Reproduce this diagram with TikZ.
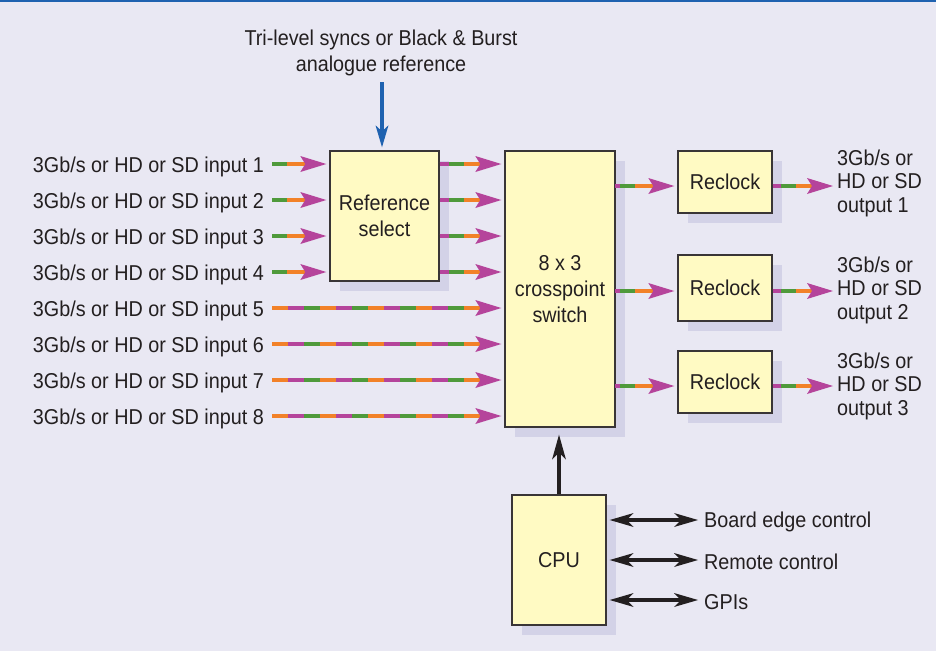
\documentclass[tikz,border=0pt]{standalone}
\usepackage{fontspec}
\setmainfont[FakeStretch=0.92]{Liberation Sans}
\usetikzlibrary{arrows.meta}
\definecolor{bg}{HTML}{E9E8F3}
\definecolor{shad}{HTML}{D3D2E7}
\definecolor{boxfill}{HTML}{FFFAC3}
\definecolor{sgreen}{HTML}{4F9A3B}
\definecolor{sorange}{HTML}{F28128}
\definecolor{smag}{HTML}{B5449B}
\definecolor{topblue}{HTML}{1F62B0}
\definecolor{txt}{HTML}{231F20}
\newcommand\lab{\fontsize{21.5}{26}\selectfont}
\newcommand\labo{\fontsize{21.5}{23.5}\selectfont}
\tikzset{
  blk/.style={draw=txt!90, line width=1.4pt, fill=boxfill, align=center,
    inner sep=0pt, font=\lab, text=txt,
    preaction={fill=shad, transform canvas={shift={(10pt,-10pt)}}}},
  lbl/.style={font=\lab, text=txt, inner sep=0pt},
  sig/.style={line width=4pt, draw=sorange, shorten >=3pt,
    -{Stealth[length=26pt,width=16pt,inset=5pt,color=smag,line width=0pt]}},
  sigov/.style={line width=4pt},
  dbl/.style={line width=3.5pt, draw=txt,
    {Stealth[length=24pt,width=14pt,inset=7pt,line width=0pt]}-{Stealth[length=24pt,width=14pt,inset=7pt,line width=0pt]}},
  bigup/.style={line width=4pt, draw=txt,
    -{Stealth[length=25pt,width=14pt,inset=7pt,line width=0pt]}},
  blueup/.style={line width=3.5pt, draw=topblue,
    -{Stealth[length=22pt,width=13pt,inset=6pt,line width=0pt]}},
}
% signal line: start, end, magenta length
\newcommand\sigline[3]{%
  \draw[sig] (#1) -- (#2);
  \draw[sigov, smag, dash pattern=on #3pt off 2000pt] (#1) -- (#2);
  \draw[sigov, sgreen, dash pattern=on 0pt off #3pt on 15pt off 2000pt] (#1) -- (#2);
}
% long tri-colour dashed line
\newcommand\sigdash[2]{%
  \draw[sig] (#1) -- (#2);
  \draw[sigov, smag, dash pattern=on 16pt off 32pt, dash phase=32pt, shorten >=27pt] (#1) -- (#2);
  \draw[sigov, sgreen, dash pattern=on 16pt off 32pt, dash phase=16pt, shorten >=27pt] (#1) -- (#2);
}
\begin{document}
\begin{tikzpicture}[x=1pt,y=-1pt]
\useasboundingbox (0,0) rectangle (936,651);
\fill[bg] (0,0) rectangle (936,651);
\fill[topblue] (0,0) rectangle (936,2);

% blocks
\node[blk, minimum width=109pt, minimum height=130pt] (ref) at (384.5,216) {Reference\\select};
\node[blk, minimum width=110pt, minimum height=276pt] (xp) at (560,289) {8 x 3\\crosspoint\\switch};
\node[blk, minimum width=94pt, minimum height=62pt] (rc1) at (725,182) {Reclock};
\node[blk, minimum width=94pt, minimum height=66pt] (rc2) at (725,288) {Reclock};
\node[blk, minimum width=94pt, minimum height=62pt] (rc3) at (725,382) {Reclock};
\node[blk, minimum width=94pt, minimum height=130pt] (cpu) at (559,560) {CPU};

% reference input
\node[lbl, align=center] (reft) at (381,53) {Tri-level syncs or Black \& Burst\\analogue reference};
\coordinate (rb) at (382,82);
\draw[blueup, shorten >=3pt] (rb) -- (rb |- ref.north);

% inputs
\foreach \i/\y in {1/164,2/200,3/236,4/272,5/308,6/344,7/380,8/416}{
  \node[lbl, anchor=base east] (l\i) at (264,\y+8) {3Gb/s or HD or SD input \i};
  \coordinate (in\i) at (272,\y);
}
\foreach \i in {1,2,3,4}{ \sigline{in\i}{in\i -| ref.west}{0} }
\foreach \i in {5,6,7,8}{ \sigdash{in\i}{in\i -| xp.west} }

% reference select outputs
\foreach \i in {1,2,3,4}{
  \coordinate (ro\i) at (in\i -| ref.east);
  \sigline{ro\i}{ro\i -| xp.west}{9}
}

% crosspoint outputs and reclocks
\foreach \k/\y in {1/186,2/291,3/386}{
  \coordinate (xo\k) at (615,\y);
  \sigline{xo\k}{xo\k -| rc\k.west}{5}
  \coordinate (rco\k) at (rc\k.east |- xo\k);
  \coordinate (oe\k) at (836,\y);
  \sigline{rco\k}{oe\k}{8}
}
\node[lbl, font=\labo, align=left, anchor=west] (o1) at (837,183) {3Gb/s or\\HD or SD\\output 1};
\node[lbl, font=\labo, align=left, anchor=west] (o2) at (837,290) {3Gb/s or\\HD or SD\\output 2};
\node[lbl, font=\labo, align=left, anchor=west] (o3) at (837,386) {3Gb/s or\\HD or SD\\output 3};

% CPU
\draw[bigup, shorten >=7pt] (cpu.north) -- (cpu.north |- xp.south);
\foreach \k/\y/\t in {1/520/Board edge control,2/560/Remote control,3/600/GPIs}{
  \coordinate (ce\k) at (698,\y);
  \draw[dbl, shorten <=3pt] (cpu.east |- ce\k) -- (ce\k);
  \node[lbl, anchor=west] (c\k) at (704,\y+2) {\t};
}
\end{tikzpicture}
\end{document}
